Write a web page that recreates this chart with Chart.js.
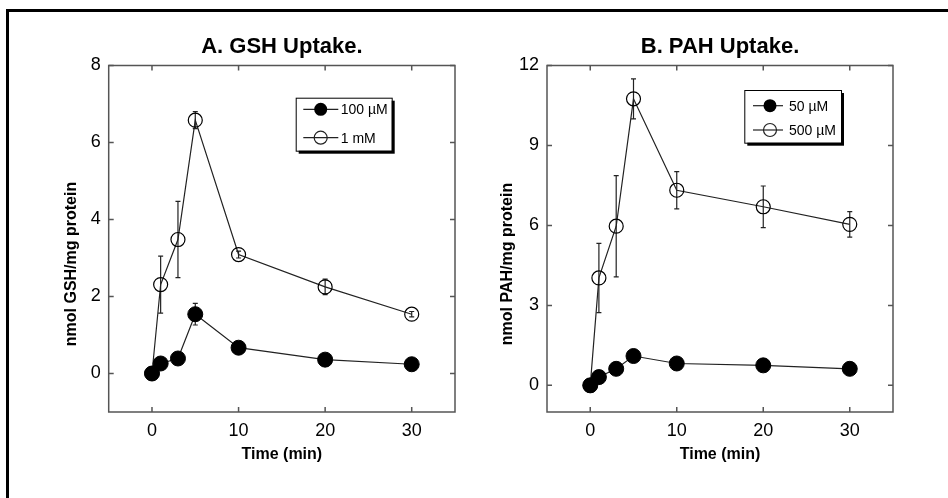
<!DOCTYPE html>
<html><head><meta charset="utf-8">
<script src="https://cdn.jsdelivr.net/npm/chart.js@4/dist/chart.umd.min.js"></script>
<style>
html,body{margin:0;padding:0;background:#fff}
body{width:948px;height:498px;overflow:hidden;position:relative}
#frame{position:absolute;left:6px;top:9px;width:1000px;height:600px;border:3px solid #000}
.wrap{position:absolute;top:0;width:474px;height:498px}
</style></head><body>
<div id="frame"></div>
<div class="wrap" style="left:0"><canvas id="cA" width="474" height="498"></canvas></div>
<div class="wrap" style="left:474px"><canvas id="cB" width="474" height="498"></canvas></div>
<script>
// ---- data ----
const timeMin = [0, 1, 3, 5, 10, 20, 30];
const xTicks = [0, 10, 20, 30];

const gshTitle = "A. GSH Uptake.";
const gshYLabel = "nmol GSH/mg protein";
const gshYTicks = [0, 2, 4, 6, 8];
const gshLow = [0, 0.26, 0.39, 1.54, 0.67, 0.36, 0.24];
const gshLowErr = [0, 0, 0, 0.28, 0, 0, 0];
const gshHigh = [0, 2.31, 3.48, 6.58, 3.09, 2.25, 1.54];
const gshHighErr = [0, 0.74, 0.99, 0.22, 0.09, 0.2, 0.07];
const gshLabels = ["100 \u00B5M", "1 mM"];

const pahTitle = "B. PAH Uptake.";
const pahYLabel = "nmol PAH/mg protein";
const pahYTicks = [0, 3, 6, 9, 12];
const pahLow = [0, 0.31, 0.62, 1.1, 0.82, 0.75, 0.62];
const pahLowErr = [0, 0, 0, 0, 0, 0, 0];
const pahHigh = [0, 4.03, 5.97, 10.75, 7.32, 6.7, 6.04];
const pahHighErr = [0, 1.3, 1.9, 0.75, 0.7, 0.78, 0.48];
const pahLabels = ["50 \u00B5M", "500 \u00B5M"];

const timeLabel = "Time (min)";
const FONT = "'Liberation Sans', Arial, sans-serif";
const AXIS = "#555";
const LINE = "#222";

const decor = {
  id: 'decor',
  beforeDatasetsDraw(chart, args, o) {
    const ctx = chart.ctx, a = chart.chartArea;
    const xs = chart.scales.x, ys = chart.scales.y;
    ctx.save();
    ctx.strokeStyle = AXIS; ctx.lineWidth = 1.5;
    ctx.strokeRect(a.left, a.top, a.right - a.left, a.bottom - a.top);
    const L = 5;
    ctx.beginPath();
    xs.ticks.forEach(t => {
      const px = xs.getPixelForValue(t.value);
      ctx.moveTo(px, a.bottom); ctx.lineTo(px, a.bottom - L);
      ctx.moveTo(px, a.top); ctx.lineTo(px, a.top + L);
    });
    ys.ticks.forEach(t => {
      const py = ys.getPixelForValue(t.value);
      ctx.moveTo(a.left, py); ctx.lineTo(a.left + L, py);
      ctx.moveTo(a.right, py); ctx.lineTo(a.right - L, py);
    });
    ctx.stroke();
    ctx.strokeStyle = LINE; ctx.lineWidth = 1.2;
    chart.data.datasets.forEach(ds => {
      if (!ds.err) return;
      ds.data.forEach((p, i) => {
        const e = ds.err[i];
        if (!e) return;
        const px = xs.getPixelForValue(p.x);
        const y1 = ys.getPixelForValue(p.y + e), y2 = ys.getPixelForValue(p.y - e);
        ctx.beginPath();
        ctx.moveTo(px, y1); ctx.lineTo(px, y2);
        ctx.moveTo(px - 2.5, y1); ctx.lineTo(px + 2.5, y1);
        ctx.moveTo(px - 2.5, y2); ctx.lineTo(px + 2.5, y2);
        ctx.stroke();
      });
    });
    ctx.restore();
  },
  afterDraw(chart, args, o) {
    const ctx = chart.ctx, a = chart.chartArea;
    ctx.save();
    ctx.fillStyle = "#000";
    ctx.font = "bold 22px " + FONT;
    ctx.textAlign = "center"; ctx.textBaseline = "middle";
    ctx.fillText(o.title, (a.left + a.right) / 2, 47);
    ctx.font = "bold 16px " + FONT;
    ctx.fillText(timeLabel, (a.left + a.right) / 2, 455);
    ctx.save();
    ctx.translate(o.yTitleX, o.yTitleY);
    ctx.rotate(-Math.PI / 2);
    ctx.fillText(o.yTitle, 0, 0);
    ctx.restore();
    const b = o.legend;
    ctx.fillStyle = "#000";
    ctx.fillRect(b.x + 3, b.y + 3, b.w, b.h);
    ctx.fillStyle = "#fff";
    ctx.fillRect(b.x, b.y, b.w, b.h);
    ctx.strokeStyle = "#000"; ctx.lineWidth = 1;
    ctx.strokeRect(b.x + 0.5, b.y + 0.5, b.w, b.h);
    ctx.font = "14px " + FONT;
    ctx.textAlign = "left";
    chart.data.datasets.forEach((ds, i) => {
      const cy = b.y + b.rows[i];
      ctx.strokeStyle = LINE; ctx.lineWidth = 1.2;
      ctx.beginPath(); ctx.moveTo(b.x + b.l0, cy); ctx.lineTo(b.x + b.l1, cy); ctx.stroke();
      ctx.beginPath(); ctx.arc(b.x + b.m, cy, 6.5, 0, Math.PI * 2);
      if (ds.filled) { ctx.fillStyle = "#000"; ctx.fill(); }
      else { ctx.stroke(); }
      ctx.fillStyle = "#000";
      ctx.fillText(ds.label, b.x + b.t, cy + 1);
    });
    ctx.restore();
  }
};

function pts(xs, ys) { return xs.map((x, i) => ({x: x, y: ys[i]})); }

function makeChart(id, opts) {
  return new Chart(document.getElementById(id), {
    type: 'line',
    data: {
      datasets: [
        {label: opts.labels[0], data: pts(timeMin, opts.low), err: opts.lowErr, filled: true,
         borderColor: LINE, borderWidth: 1.2, backgroundColor: "#000",
         pointBackgroundColor: "#000", pointBorderColor: "#000", pointRadius: 7.5, pointBorderWidth: 1},
        {label: opts.labels[1], data: pts(timeMin, opts.high), err: opts.highErr, filled: false,
         borderColor: LINE, borderWidth: 1.2, backgroundColor: "rgba(0,0,0,0)",
         pointBackgroundColor: "rgba(0,0,0,0)", pointBorderColor: "#000", pointRadius: 7, pointBorderWidth: 1.2}
      ]
    },
    options: {
      responsive: false, animation: false,
      layout: {padding: {top: 65.5, right: opts.padRight, left: 0, bottom: 0}},
      plugins: {legend: {display: false}, tooltip: {enabled: false},
        decor: {title: opts.title, yTitle: opts.yTitle, yTitleX: opts.yTitleX, yTitleY: opts.yTitleY, legend: opts.legend}},
      elements: {line: {tension: 0}},
      scales: {
        x: {type: 'linear', min: -5, max: 35,
          afterBuildTicks: s => { s.ticks = xTicks.map(v => ({value: v})); },
          afterFit: s => { s.height = 86; },
          grid: {display: false, drawTicks: false}, border: {display: false},
          ticks: {padding: 8, color: "#000", font: {family: FONT, size: 18}}},
        y: {type: 'linear', min: -1, max: opts.yMax,
          afterBuildTicks: s => { s.ticks = opts.yTicks.map(v => ({value: v})); },
          afterFit: s => { s.width = opts.yWidth; },
          grid: {display: false, drawTicks: false}, border: {display: false},
          ticks: {padding: 8, color: "#000", font: {family: FONT, size: 18}}}
      }
    },
    plugins: [decor]
  });
}

makeChart('cA', {title: gshTitle, yTitle: gshYLabel, yTicks: gshYTicks, yMax: 8,
  low: gshLow, lowErr: gshLowErr, high: gshHigh, highErr: gshHighErr, labels: gshLabels,
  padRight: 19, yWidth: 108.7, yTitleX: 72, yTitleY: 264,
  legend: {x: 295.7, y: 97.7, w: 96, h: 53, rows: [11.6, 40], l0: 7.6, l1: 42.6, m: 25, t: 45}});

makeChart('cB', {title: pahTitle, yTitle: pahYLabel, yTicks: pahYTicks, yMax: 12,
  low: pahLow, lowErr: pahLowErr, high: pahHigh, highErr: pahHighErr, labels: pahLabels,
  padRight: 55, yWidth: 73, yTitleX: 34, yTitleY: 264,
  legend: {x: 270.3, y: 90, w: 96.7, h: 52.7, rows: [15.7, 40], l0: 8.7, l1: 38.7, m: 25.7, t: 44.7}});
</script>
</body></html>
